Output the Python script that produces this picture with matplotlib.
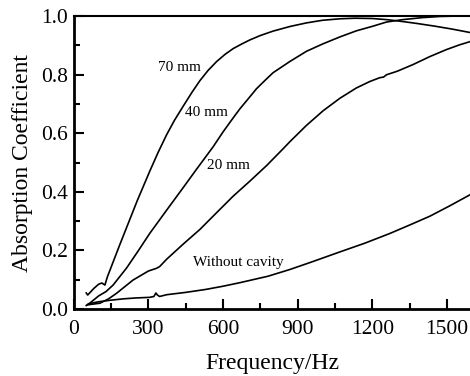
import matplotlib
matplotlib.use("Agg")
import matplotlib.pyplot as plt
from matplotlib.ticker import MultipleLocator, FormatStrFormatter

# curves (frequency in Hz, absorption coefficient)
f_70 = [50, 56, 80, 100, 113, 125, 135, 185, 255, 305, 339, 373, 405, 440, 475, 507,
        540, 574, 607, 640, 675, 708, 750, 801, 870, 935, 1000, 1069, 1130, 1200,
        1260, 1310, 1380, 1450, 1520, 1600]
a_70 = [0.055, 0.048, 0.07, 0.085, 0.089, 0.082, 0.11, 0.22, 0.37, 0.47, 0.535, 0.595,
        0.645, 0.693, 0.74, 0.78, 0.815, 0.845, 0.869, 0.889, 0.905, 0.919, 0.934,
        0.949, 0.965, 0.977, 0.986, 0.991, 0.993, 0.992, 0.988, 0.983, 0.975, 0.966,
        0.956, 0.943]

f_40 = [55, 64, 100, 130, 158, 212, 260, 305, 370, 440, 493, 533, 560, 600, 640, 667,
        708, 734, 770, 801, 868, 935, 1000, 1069, 1136, 1203, 1257, 1320, 1400, 1471,
        1520, 1600]
a_40 = [0.015, 0.02, 0.045, 0.06, 0.082, 0.14, 0.2, 0.258, 0.334, 0.415, 0.477, 0.523,
        0.554, 0.605, 0.652, 0.683, 0.725, 0.752, 0.782, 0.807, 0.845, 0.88, 0.905,
        0.929, 0.95, 0.966, 0.98, 0.988, 0.995, 0.999, 1.0, 1.0]

f_20 = [60, 105, 140, 172, 238, 300, 332, 345, 373, 440, 507, 575, 640, 708, 775, 841,
        868, 935, 1002, 1070, 1136, 1190, 1230, 1245, 1257, 1300, 1364, 1431, 1498,
        1550, 1600]
a_20 = [0.015, 0.02, 0.035, 0.054, 0.099, 0.13, 0.139, 0.145, 0.17, 0.222, 0.272,
        0.33, 0.385, 0.437, 0.49, 0.547, 0.571, 0.627, 0.677, 0.72, 0.755, 0.777,
        0.79, 0.792, 0.80, 0.812, 0.835, 0.862, 0.886, 0.902, 0.915]

f_none = [50, 60, 70, 100, 145, 200, 250, 305, 322, 330, 336, 345, 373, 450, 530, 600,
          667, 708, 780, 868, 960, 1069, 1170, 1270, 1350, 1431, 1510, 1592, 1600]
a_none = [0.012, 0.018, 0.02, 0.025, 0.03, 0.035, 0.038, 0.04, 0.043, 0.055, 0.048,
          0.043, 0.049, 0.057, 0.067, 0.078, 0.09, 0.098, 0.112, 0.135, 0.162, 0.195,
          0.225, 0.258, 0.287, 0.317, 0.352, 0.39, 0.394]

curve_labels = ["70 mm", "40 mm", "20 mm", "Without cavity"]
label_pos = [(426, 0.826), (535, 0.67), (620, 0.49), (663, 0.16)]

plt.rcParams['font.family'] = ['Liberation Serif', 'DejaVu Serif']

fig = plt.figure(figsize=(4.7, 3.76), dpi=100)
ax = fig.add_axes([0.157, 0.178, 0.847, 0.779])

for f, a in [(f_70, a_70), (f_40, a_40), (f_20, a_20), (f_none, a_none)]:
    ax.plot(f, a, color='black', linewidth=1.2)

for txt, (x, y) in zip(curve_labels, label_pos):
    ax.text(x, y, txt, fontsize=11, ha='center', va='center')

ax.set_xlim(0, 1600)
ax.set_ylim(0, 1.0)
ax.xaxis.set_major_locator(MultipleLocator(300))
ax.xaxis.set_minor_locator(MultipleLocator(150))
ax.yaxis.set_major_locator(MultipleLocator(0.2))
ax.yaxis.set_minor_locator(MultipleLocator(0.1))
ax.yaxis.set_major_formatter(FormatStrFormatter('%.1f'))

ax.tick_params(which='major', direction='in', length=7, width=1.5, labelsize=15.5)
ax.tick_params(which='minor', direction='in', length=4, width=1.5)
ax.tick_params(axis='x', pad=8)
ax.tick_params(axis='y', pad=4)

ax.spines['right'].set_visible(False)
for s in ['left', 'bottom']:
    ax.spines[s].set_linewidth(2)
ax.spines['top'].set_linewidth(1.5)

ax.set_xlabel('Frequency/Hz', fontsize=17, labelpad=10)
ax.set_ylabel('Absorption Coefficient', fontsize=17, labelpad=6)

fig.savefig('out.png', dpi=100)
